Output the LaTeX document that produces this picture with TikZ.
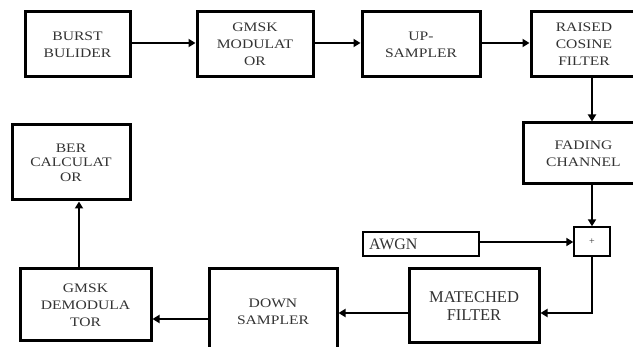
\documentclass[tikz,border=0pt]{standalone}
\usepackage{fontspec}
\setmainfont{Liberation Serif}
\newfontfamily\boxfont[FakeStretch=1.2]{Liberation Serif}
\usetikzlibrary{arrows.meta}
\begin{document}
\begin{tikzpicture}[x=1pt,y=-1pt,
  blk/.style={draw, line width=3pt, rectangle, align=center, inner sep=0pt,
    text=black!80, font=\boxfont\fontsize{13}{17}\selectfont},
  bigtext/.style={font=\fontsize{16.5}{18}\selectfont},
  lite/.style={draw, line width=1.4pt, rectangle, inner sep=0pt, text=black!80},
  arr/.style={line width=2pt, -{Triangle[length=7pt,width=8pt]}}]
\useasboundingbox (0,0) rectangle (633,347);
\fill[white] (0,0) rectangle (633,347);
\clip (0,0) rectangle (633,347);
% top row
\node[blk, minimum width=105pt, minimum height=65pt] (burst) at (77.5,44.5) {BURST\\BULIDER};
\node[blk, minimum width=116pt, minimum height=65pt] (gmsk) at (255,44.5) {GMSK\\MODULAT\\OR};
\node[blk, minimum width=118pt, minimum height=65pt] (up) at (421,44.5) {UP-\\SAMPLER};
\node[blk, minimum width=106pt, minimum height=65pt] (raised) at (584,44.5) {RAISED\\COSINE\\FILTER};
% right column
\node[blk, minimum width=121pt, minimum height=61pt] (fading) at (583.5,153.5) {FADING\\CHANNEL};
\node[lite, minimum width=36pt, minimum height=29pt, font=\fontsize{10}{10}\selectfont] (plus) at (592,241.5) {+};
\node[lite, minimum width=116pt, minimum height=24pt, text width=104pt, align=left, font=\fontsize{16}{18}\selectfont] (awgn) at (421,244) {AWGN};
% bottom row
\node[blk, bigtext, minimum width=130pt, minimum height=74pt] (matched) at (474,306) {MATECHED\\FILTER};
\node[blk, minimum width=128pt, minimum height=86pt] (down) at (273,312) {DOWN\\SAMPLER};
\node[blk, minimum width=131pt, minimum height=72pt] (demod) at (85.5,305) {GMSK\\DEMODULA\\TOR};
\node[blk, minimum width=118pt, minimum height=75pt, font=\boxfont\fontsize{13}{14.5}\selectfont] (ber) at (71,162.5) {BER\\CALCULAT\\OR};
% connectors
\draw[arr] ([yshift=1.5pt]burst.east) -- ([yshift=1.5pt]gmsk.west);
\draw[arr] ([yshift=1.5pt]gmsk.east) -- ([yshift=1.5pt]up.west);
\draw[arr] ([yshift=1.5pt]up.east) -- ([yshift=1.5pt]raised.west);
\draw[arr] (raised.south -| plus) -- (fading.north -| plus);
\draw[arr] (fading.south -| plus) -- (plus.north);
\draw[arr] ([yshift=2pt]awgn.east) -- ([yshift=2pt]awgn.east -| plus.west);
\draw[arr] (plus.south) |- ([yshift=-7pt]matched.east);
\draw[arr] ([yshift=-7pt]matched.west) -- ([yshift=-7pt]matched.west -| down.east);
\draw[arr] ([yshift=-7pt]down.west) -- ([yshift=-7pt]down.west -| demod.east);
\draw[arr] ([xshift=-6.5pt]demod.north) -- ([xshift=-6.5pt]demod.north |- ber.south);
\end{tikzpicture}
\end{document}
